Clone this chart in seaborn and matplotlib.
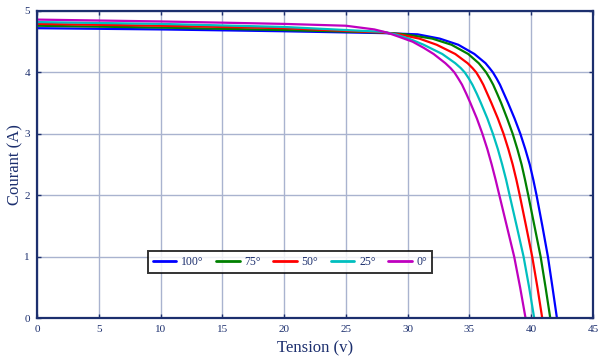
import numpy as np
import pandas as pd
import matplotlib
matplotlib.use("Agg")
import matplotlib.pyplot as plt
import seaborn as sns

labels = ["100°", "75°", "50°", "25°", "0°"]
colors = ["#0000ff", "#008000", "#ff0000", "#00bfbf", "#bf00bf"]

i_levels = [4.55, 4.45, 4.30, 4.15, 4.07, 4.00, 3.90, 3.80, 3.65, 3.50, 3.25, 3.00,
            2.75, 2.50, 2.25, 2.00, 1.50, 1.00, 0.50, 0.00]

v_100 = [0, 10, 20, 28, 30.8, 32.6, 34.1, 35.4, 36.3, 36.63, 36.9, 37.2, 37.47, 37.8, 38.13,
         38.65, 39.12, 39.52, 39.88, 40.17, 40.43, 40.9, 41.35, 41.72, 42.08]
i_100 = [4.72, 4.70, 4.67, 4.64, 4.62] + i_levels

v_75 = [0, 10, 20, 28, 29.8, 32.0, 33.55, 34.9, 35.75, 36.08, 36.35, 36.65, 36.92, 37.25, 37.57,
        38.05, 38.5, 38.88, 39.22, 39.5, 39.76, 40.26, 40.76, 41.16, 41.54]
i_75 = [4.76, 4.73, 4.69, 4.65, 4.62] + i_levels

v_50 = [0, 10, 20, 28, 29.3, 30.95, 32.35, 33.85, 34.85, 35.25, 35.55, 35.85, 36.12, 36.45, 36.78,
        37.3, 37.76, 38.15, 38.5, 38.8, 39.07, 39.58, 40.08, 40.5, 40.89]
i_50 = [4.79, 4.76, 4.72, 4.65, 4.62] + i_levels

v_25 = [0, 10, 20, 28, 29.0, 30.1, 31.3, 32.8, 33.85, 34.3, 34.62, 34.95, 35.24, 35.6, 35.93,
        36.45, 36.9, 37.3, 37.65, 37.97, 38.25, 38.82, 39.38, 39.83, 40.24]
i_25 = [4.82, 4.79, 4.74, 4.66, 4.62] + i_levels

v_0 = [0, 10, 20, 25, 27.3, 28.3, 29.3, 30.4, 31.3, 32.1, 33.05, 33.47, 33.78, 34.1, 34.4, 34.75,
       35.08, 35.6, 36.05, 36.45, 36.8, 37.12, 37.42, 38.02, 38.62, 39.1, 39.54]
i_0 = [4.86, 4.83, 4.79, 4.76, 4.70, 4.65, 4.58, 4.50, 4.40, 4.30, 4.15, 4.07, 4.00, 3.90, 3.80,
       3.65, 3.50, 3.25, 3.00, 2.75, 2.50, 2.25, 2.00, 1.50, 1.00, 0.50, 0.00]

series_v = [v_100, v_75, v_50, v_25, v_0]
series_i = [i_100, i_75, i_50, i_25, i_0]

rows = []
for lab, vs, iss in zip(labels, series_v, series_i):
    for v, i in zip(vs, iss):
        rows.append({"Tension": v, "Courant": i, "T": lab})
df = pd.DataFrame(rows)

sns.set_style("white")
plt.rcParams["font.family"] = ["Liberation Serif", "DejaVu Serif"]

navy = "#1c2f6e"
grid_c = "#a9b3cf"

fig = plt.figure(figsize=(5.98, 3.6), dpi=100)
ax = fig.add_axes([37/598, 42/360, 556/598, 307/360])

sns.lineplot(data=df, x="Tension", y="Courant", hue="T", hue_order=labels,
             palette=colors, sort=False, estimator=None, units="T",
             linewidth=1.6, ax=ax)

ax.set_xlim(0, 45)
ax.set_ylim(0, 5)
ax.set_xticks(np.arange(0, 46, 5))
ax.set_yticks(np.arange(0, 6, 1))
ax.grid(True, color=grid_c, linewidth=1.0)
ax.set_axisbelow(True)
for s in ax.spines.values():
    s.set_color(navy)
    s.set_linewidth(1.6)
ax.tick_params(direction="in", length=3, width=1, color=navy, labelcolor=navy,
               labelsize=8, top=True, right=True, left=True, bottom=True, pad=5)

ax.set_xlabel("Tension (v)", color=navy, fontsize=12, labelpad=5)
ax.set_ylabel("Courant (A)", color=navy, fontsize=12, labelpad=1)

leg = ax.legend(loc="center", bbox_to_anchor=(0.455, 0.182), ncol=5,
                frameon=True, fontsize=8.5, handlelength=2.0, columnspacing=1.05,
                handletextpad=0.4, borderpad=0.4, fancybox=False)
leg.get_frame().set_edgecolor("black")
leg.get_frame().set_linewidth(1.4)
for line in leg.get_lines():
    line.set_linewidth(2.0)
for t in leg.get_texts():
    t.set_color(navy)

fig.savefig("out.png", dpi=100, facecolor="white")
